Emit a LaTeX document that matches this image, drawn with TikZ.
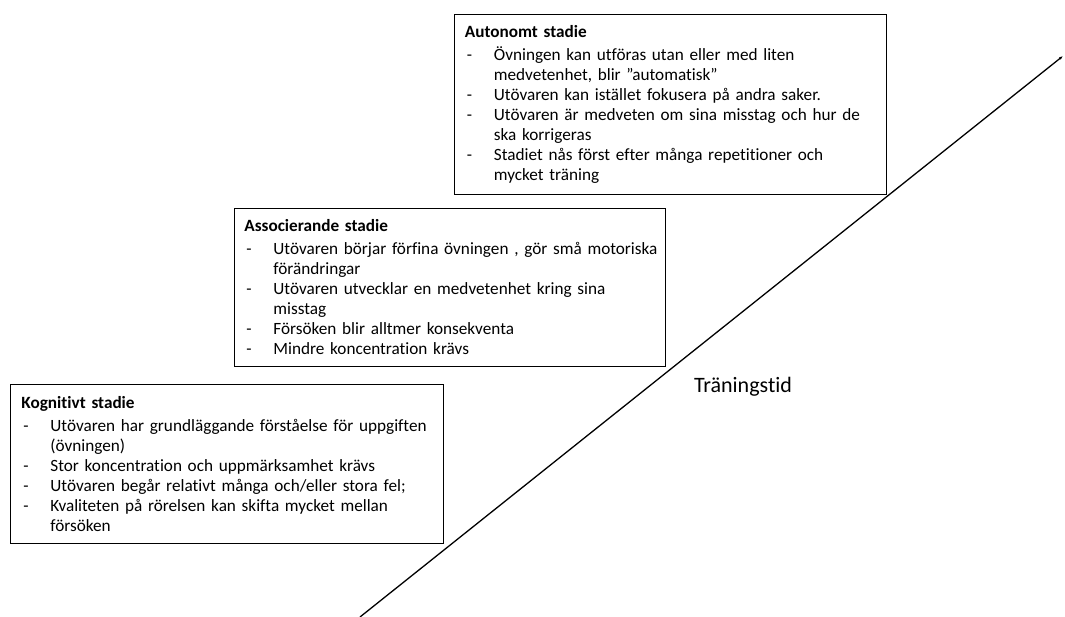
\documentclass[tikz,border=0pt]{standalone}
\usepackage{fontspec}
\setmainfont{Carlito}[Ligatures=NoCommon]
\usetikzlibrary{arrows.meta}

\newcommand{\rubrik}[1]{\hspace*{4pt}\textbf{#1}}
\newcommand{\punkt}[1]{\makebox[33pt][l]{\hspace{6pt}-}\mbox{#1}}
\newcommand{\vidare}[1]{\hspace*{33pt}\mbox{#1}}

\begin{document}
\begin{tikzpicture}[x=1pt,y=-1pt,
  stadiebox/.style={draw, line width=0.8pt, anchor=north west, align=left,
    inner xsep=6pt, inner ysep=0pt, text width=419pt,
    font=\fontsize{17.2}{20}\selectfont}]
\useasboundingbox (0,0) rectangle (1065,617);

\node[stadiebox, minimum width=433pt, minimum height=159pt](kog) at (10,384) {\rubrik{Kognitivt stadie}\\[3pt]
\punkt{Utövaren har grundläggande förståelse för uppgiften}\\
\vidare{(övningen)}\\
\punkt{Stor koncentration och uppmärksamhet krävs}\\
\punkt{Utövaren begår relativt många och/eller stora fel;}\\
\punkt{Kvaliteten på rörelsen kan skifta mycket mellan}\\
\vidare{försöken}};

\node[stadiebox, minimum width=431pt, minimum height=158pt](ass) at (234,208) {\rubrik{Associerande stadie}\\[3pt]
\punkt{Utövaren börjar förfina övningen , gör små motoriska}\\
\vidare{förändringar}\\
\punkt{Utövaren utvecklar en medvetenhet kring sina}\\
\vidare{misstag}\\
\punkt{Försöken blir alltmer konsekventa}\\
\punkt{Mindre koncentration krävs}};

\node[stadiebox, minimum width=432pt, minimum height=180pt](aut) at (454,14) {\rubrik{Autonomt stadie}\\[3pt]
\punkt{Övningen kan utföras utan eller med liten}\\
\vidare{medvetenhet, blir ”automatisk”}\\
\punkt{Utövaren kan istället fokusera på andra saker.}\\
\punkt{Utövaren är medveten om sina misstag och hur de}\\
\vidare{ska korrigeras}\\
\punkt{Stadiet nås först efter många repetitioner och}\\
\vidare{mycket träning}};

\coordinate (start) at (360,617);
\coordinate (slut) at (1063,56);
\draw[line width=1.3pt, -{Latex[length=4pt,width=3pt]}] (start) -- (slut);

\node[font=\fontsize{22}{26}\selectfont](tid) at (743,387) {Träningstid};
\end{tikzpicture}
\end{document}
